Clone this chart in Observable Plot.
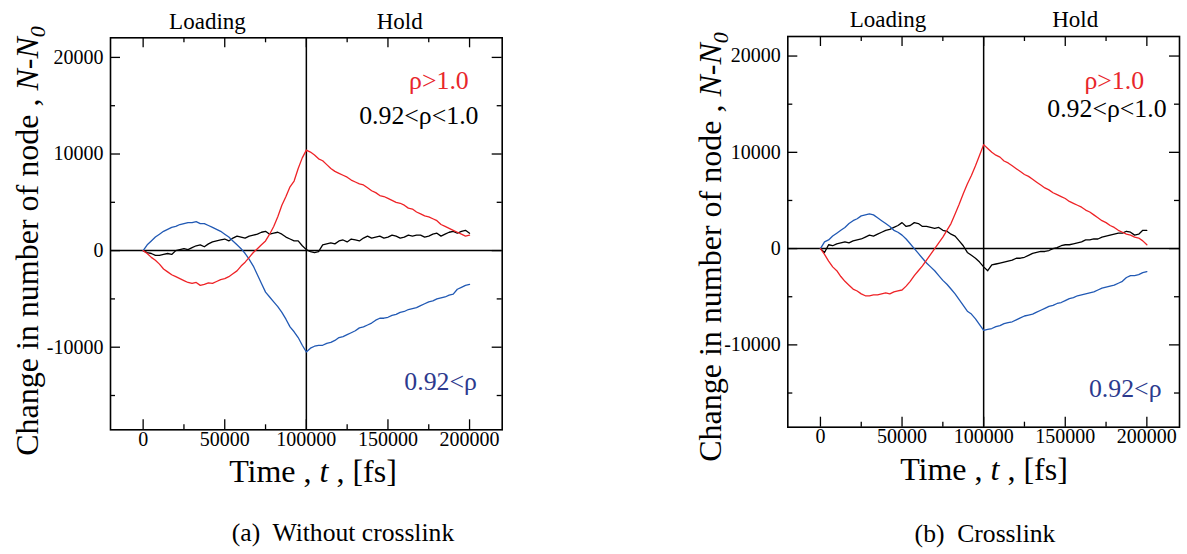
<!DOCTYPE html>
<html><head><meta charset="utf-8">
<script src="https://cdn.jsdelivr.net/npm/d3@7"></script>
<script src="https://cdn.jsdelivr.net/npm/@observablehq/plot@0.6"></script>
<style>
body{margin:0;background:#fff;}
#wrap{position:relative;width:1187px;height:554px;overflow:hidden;}
.panel{position:absolute;top:0;}
</style></head><body>
<div id="wrap"></div>
<script>
// ---------- data ----------
const time = [
  0,2500,5000,7500,10000,12500,15000,17500,20000,22500,
  25000,27500,30000,32500,35000,37500,40000,42500,45000,47500,
  50000,52500,55000,57500,60000,62500,65000,67500,70000,72500,
  75000,77500,80000,82500,85000,87500,90000,92500,95000,97500,
  100000,102500,105000,107500,110000,112500,115000,117500,120000,122500,
  125000,127500,130000,132500,135000,137500,140000,142500,145000,147500,
  150000,152500,155000,157500,160000,162500,165000,167500,170000,172500,
  175000,177500,180000,182500,185000,187500,190000,192500,195000,197500,
  200000];

// (a) Without crosslink
const redA = [
  0,-300,-700,-1000,-1400,-1900,-2200,-2500,-2700,-2900,
  -3100,-3300,-3400,-3300,-3600,-3500,-3350,-3400,-3200,-3000,
  -2900,-2700,-2400,-2100,-1600,-1200,-700,-200,200,600,
  1000,1700,2500,3500,4700,5600,6600,7200,8500,9600,
  10400,10200,9900,9500,9300,8900,8500,8200,8000,7800,
  7600,7300,7100,6900,6800,6500,6200,6000,5700,5600,
  5400,5200,5000,4900,4700,4400,4300,4000,3800,3600,
  3500,3300,3100,2700,2500,2300,2100,1900,1700,1500,
  1600];
const blueA = [
  0,600,1000,1400,1700,2000,2200,2400,2500,2700,
  2800,2900,2900,3000,2800,2800,2600,2400,2200,2000,
  1700,1400,1000,600,200,-300,-900,-1600,-2500,-3400,
  -4300,-4800,-5300,-5800,-6400,-7100,-7900,-8400,-9000,-9800,
  -10500,-10100,-9900,-9800,-9800,-9600,-9500,-9300,-9000,-8900,
  -8700,-8500,-8300,-8000,-7900,-7700,-7500,-7200,-7000,-7000,
  -6900,-6700,-6600,-6400,-6300,-6100,-6000,-5900,-5700,-5500,
  -5300,-5200,-5000,-4900,-4800,-4600,-4500,-4000,-3800,-3600,
  -3500];
const blackA = [
  0,-200,-300,-500,-500,-400,-300,-400,0,100,
  200,100,300,500,600,400,700,900,1000,1100,
  1200,1000,1300,1500,1400,1300,1500,1600,1700,1900,
  2000,1700,1800,1900,1700,1400,1200,1000,1000,500,
  100,-100,-200,-100,600,700,800,700,1000,1100,
  900,1200,1100,1000,1300,1500,1300,1400,1500,1300,
  1400,1600,1500,1300,1400,1600,1500,1600,1600,1400,
  1500,1700,1800,1500,1700,1900,2000,1800,2000,2100,
  1800];

// (b) Crosslink
const redB = [
  0,-600,-1300,-1900,-2300,-2900,-3400,-3800,-4200,-4400,
  -4700,-4900,-4900,-4800,-4800,-4700,-4600,-4700,-4500,-4400,
  -4300,-3900,-3400,-2800,-2300,-1800,-1200,-600,0,600,
  1200,1900,2600,3600,4600,5700,6700,7600,8600,9700,
  10800,10400,10000,9700,9500,9100,8900,8600,8300,8000,
  7700,7500,7200,6900,6600,6300,6100,5800,5600,5400,
  5200,4900,4700,4500,4300,4000,3800,3500,3200,2900,
  2700,2400,2200,1900,1700,1500,1400,1200,1100,800,
  400];
const blueB = [
  0,700,900,1300,1600,1900,2200,2600,2900,3100,
  3400,3500,3600,3500,3200,2900,2600,2300,1900,1700,
  1400,1000,500,0,-500,-1000,-1500,-1900,-2300,-2800,
  -3300,-3700,-4200,-4700,-5300,-5900,-6500,-6800,-7300,-7900,
  -8500,-8400,-8300,-8100,-8000,-7800,-7700,-7600,-7400,-7200,
  -7000,-6900,-6800,-6600,-6400,-6200,-6000,-5900,-5700,-5600,
  -5400,-5200,-5100,-4900,-4800,-4700,-4600,-4500,-4300,-4100,
  -4000,-3900,-3800,-3600,-3400,-3000,-2800,-2800,-2700,-2500,
  -2400];
const blackB = [
  0,-400,400,300,500,600,700,600,800,900,
  1000,1200,1400,1300,1500,1700,1900,2000,2200,2400,
  2700,2300,2400,2700,2600,2300,2300,2200,2100,2200,
  1900,1800,1500,1300,800,300,-400,-700,-1000,-1400,
  -1900,-2300,-1700,-1600,-1500,-1400,-1300,-1200,-1000,-1000,
  -900,-700,-500,-400,-300,-300,-200,0,100,300,
  400,400,500,600,700,900,900,1000,1000,1200,
  1300,1400,1500,1600,1600,1800,1700,1400,1500,1900,
  1900];

const xMajor = [0,50000,100000,150000,200000];
const xMinor = [25000,75000,125000,175000];
const yMajor = [-10000,0,10000,20000];
const yMinor = [-15000,-5000,5000,15000];
const phaseNames = ["Loading","Hold"];
const legendNames = ["ρ>1.0","0.92<ρ<1.0","0.92<ρ"];
const captions = ["(a)  Without crosslink","(b)  Crosslink"];

// ---------- styling / layout ----------
const FONT = "Liberation Serif, Times New Roman, serif";
const RED = "#ee2226", BLUE = "#2159b4", BLACK = "#000";
const RED_T = "#e8262b", BLUE_T = "#2c3a8e";

function panel(cfg){
  const W = cfg.width, H = 554;
  const fh = H - cfg.mt - cfg.mb, fw = W - cfg.ml - cfg.mr;
  const mk = (vals) => vals.map((v,i)=>({t: time[i], v}));
  const phases = phaseNames.map((n,i)=>({label:n, t: cfg.phaseT[i]}));
  const legend = legendNames.map((n,i)=>({label:n, t: cfg.legT[i], v: cfg.legV[i], c: [RED_T,BLACK,BLUE_T][i]}));
  const plot = Plot.plot({
    width: W, height: H,
    marginLeft: cfg.ml, marginRight: cfg.mr, marginTop: cfg.mt, marginBottom: cfg.mb,
    x: {domain: [-20000, 220000]},
    y: {domain: [-18550, 22030]},
    style: {fontSize: "20px", color: "#000", background: "transparent", overflow: "visible"},
    marks: [
      Plot.ruleY([0], {stroke: BLACK, strokeWidth: 1.5}),
      Plot.ruleX([100000], {stroke: BLACK, strokeWidth: 1.5}),
      Plot.line(mk(cfg.black), {x:"t", y:"v", stroke: BLACK, strokeWidth: 1.3}),
      Plot.line(mk(cfg.blue), {x:"t", y:"v", stroke: BLUE, strokeWidth: 1.3}),
      Plot.line(mk(cfg.red), {x:"t", y:"v", stroke: RED, strokeWidth: 1.3}),
      // inward ticks
      Plot.tickX(xMajor, {x: d=>d, insetTop: fh-10, strokeWidth: 1.3}),
      Plot.tickX(xMajor, {x: d=>d, insetBottom: fh-10, strokeWidth: 1.3}),
      Plot.tickX(xMinor, {x: d=>d, insetTop: fh-5, strokeWidth: 1.3}),
      Plot.tickX(xMinor, {x: d=>d, insetBottom: fh-5, strokeWidth: 1.3}),
      Plot.tickY(yMajor, {y: d=>d, insetRight: fw-10, strokeWidth: 1.3}),
      Plot.tickY(yMajor, {y: d=>d, insetLeft: fw-10, strokeWidth: 1.3}),
      Plot.tickY(yMinor, {y: d=>d, insetRight: fw-5, strokeWidth: 1.3}),
      Plot.tickY(yMinor, {y: d=>d, insetLeft: fw-5, strokeWidth: 1.3}),
      Plot.frame({stroke: BLACK, strokeWidth: 1.6}),
      Plot.axisX({ticks: xMajor, tickSize: 0, tickPadding: 2, tickFormat: d=>String(d), label: null, fontSize: 20}),
      Plot.axisY({ticks: yMajor, tickSize: 0, tickPadding: 7, tickFormat: d=>String(d), label: null, fontSize: 20}),
      Plot.text(phases, {x:"t", text:"label", frameAnchor:"top", lineAnchor:"middle", dy: cfg.phaseDy, fontSize: 23, fill: BLACK}),
      Plot.text(legend, {x:"t", y:"v", text:"label", textAnchor:"end", lineAnchor:"middle", fontSize: 25.8, fill: d=>d.c})
    ]
  });
  const svg = d3.select(plot);
  // y title
  const yt = svg.append("text")
    .attr("transform", `translate(${cfg.ytx},${cfg.yty}) rotate(-90)`)
    .attr("text-anchor","middle").attr("font-size",32).attr("fill","#000");
  yt.append("tspan").text("Change in number of node , ");
  yt.append("tspan").attr("font-style","italic").text("N");
  yt.append("tspan").text("-");
  yt.append("tspan").attr("font-style","italic").text("N");
  yt.append("tspan").attr("font-style","italic").attr("font-size",22).attr("dy",7).text("0");
  // x title
  const xt = svg.append("text")
    .attr("x", cfg.xtx).attr("y", cfg.xty)
    .attr("text-anchor","middle").attr("font-size",32).attr("fill","#000");
  xt.append("tspan").text("Time , ");
  xt.append("tspan").attr("font-style","italic").text("t");
  xt.append("tspan").text(" , [fs]");
  // caption
  svg.append("text")
    .attr("x", cfg.capX).attr("y", cfg.capY)
    .attr("text-anchor","middle").attr("font-size",25.6).attr("fill","#000")
    .text(cfg.caption);
  svg.attr("font-family", FONT);
  svg.selectAll("text").attr("font-family", FONT);

  const div = document.createElement("div");
  div.className = "panel";
  div.style.left = cfg.left + "px";
  div.appendChild(plot);
  document.getElementById("wrap").appendChild(div);
}

panel({
  left: 0, width: 520, ml: 110, mr: 18.3, mt: 37.3, mb: 124.7,
  red: redA, blue: blueA, black: blackA,
  phaseT: [39400, 157200], phaseDy: -16.3,
  legT: [199500, 205500, 204500], legV: [17590, 13960, -13600],
  ytx: 38, yty: 241, xtx: 313, xty: 481.7,
  capX: 343, capY: 540.7, caption: captions[0]
});
panel({
  left: 677, width: 510, ml: 110.3, mr: 8, mt: 36, mb: 127.3,
  red: redB, blue: blueB, black: blackB,
  phaseT: [41400, 156100], phaseDy: -16.7,
  legT: [198300, 212100, 209000], legV: [17430, 14480, -14560],
  ytx: 44, yty: 247, xtx: 307, xty: 480,
  capX: 308, capY: 541.5, caption: captions[1]
});
</script>
</body></html>
